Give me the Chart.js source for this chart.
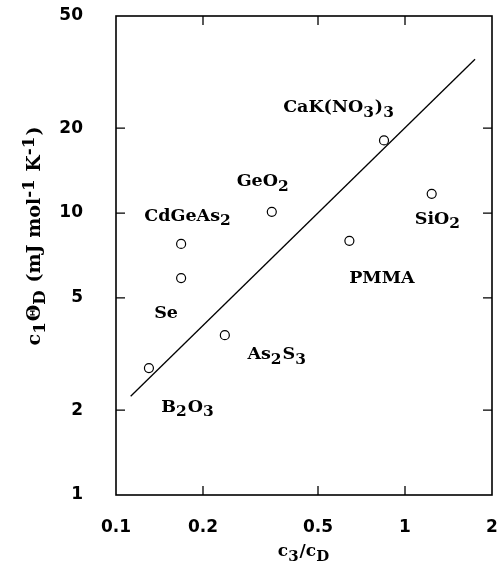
<!DOCTYPE html>
<html>
<head>
<meta charset="utf-8">
<script src="https://cdn.jsdelivr.net/npm/chart.js@4"></script>
<style>
  html, body { margin: 0; padding: 0; background: #fff; }
</style>
</head>
<body>
<canvas id="myChart" width="500" height="563"></canvas>
<script>
// measured points (c3/cD , c1*ThetaD)
const materials = ['B_2O_3', 'Se', 'CdGeAs_2', 'As_2S_3', 'GeO_2', 'PMMA', 'CaK(NO_3)_3', 'SiO_2'];
const ratioX = [0.130, 0.168, 0.168, 0.238, 0.346, 0.642, 0.846, 1.237];
const heatY  = [2.82, 5.88, 7.77, 3.69, 10.1, 7.97, 18.1, 11.7];

// straight fit line (y ~ 20x)
const fitX = [0.1124, 1.747];
const fitY = [2.24, 35.1];

// tick labels
const xTicks = [0.1, 0.2, 0.5, 1, 2];
const yTicks = [1, 2, 5, 10, 20, 50];

// where each material name is written (data coords)
const labelX = [0.1775, 0.149, 0.1775, 0.361, 0.323, 0.832, 0.591, 1.30];
const labelY = [2.05, 4.42, 9.76, 3.14, 12.9, 5.88, 23.6, 9.52];

const pts = ratioX.map((x, i) => ({x: x, y: heatY[i]}));
const fit = fitX.map((x, i) => ({x: x, y: fitY[i]}));

// draw text with _x subscripts and ^{..} superscripts
function richParts(str) {
  const parts = [];
  let i = 0;
  while (i < str.length) {
    const c = str[i];
    if (c === '_' || c === '^') {
      let t;
      if (str[i + 1] === '{') {
        const end = str.indexOf('}', i);
        t = str.slice(i + 2, end);
        i = end + 1;
      } else {
        t = str[i + 1];
        i += 2;
      }
      parts.push({t: t, s: c === '_' ? 1 : -1});
    } else {
      if (parts.length && parts[parts.length - 1].s === 0) parts[parts.length - 1].t += c;
      else parts.push({t: c, s: 0});
      i++;
    }
  }
  return parts;
}

function drawRich(ctx, str, x, y, size, family) {
  const parts = richParts(str);
  let total = 0;
  parts.forEach(p => {
    p.size = p.s === 0 ? size : size * 0.88;
    ctx.font = 'bold ' + p.size + 'px ' + family;
    p.w = ctx.measureText(p.t).width + (p.s !== 0 ? 1 : 0);
    total += p.w;
  });
  let cx = x - total / 2;
  ctx.textAlign = 'left';
  ctx.textBaseline = 'middle';
  parts.forEach(p => {
    ctx.font = 'bold ' + p.size + 'px ' + family;
    ctx.fillText(p.t, cx, y + p.s * size * 0.3);
    cx += p.w;
  });
}

const framePlugin = {
  id: 'frame',
  afterDraw(chart) {
    const ctx = chart.ctx;
    const a = chart.chartArea;
    const xs = chart.scales.x, ys = chart.scales.y;
    ctx.save();
    ctx.strokeStyle = '#000';
    ctx.fillStyle = '#000';
    ctx.lineWidth = 1.6;
    ctx.strokeRect(a.left, a.top, a.right - a.left, a.bottom - a.top);
    ctx.lineWidth = 1.3;
    ctx.beginPath();
    xTicks.slice(1, -1).forEach(v => {
      const px = xs.getPixelForValue(v);
      ctx.moveTo(px, a.bottom); ctx.lineTo(px, a.bottom - 9);
      ctx.moveTo(px, a.top); ctx.lineTo(px, a.top + 9);
    });
    yTicks.slice(1, -1).forEach(v => {
      const py = ys.getPixelForValue(v);
      ctx.moveTo(a.left, py); ctx.lineTo(a.left + 9, py);
      ctx.moveTo(a.right, py); ctx.lineTo(a.right - 9, py);
    });
    ctx.stroke();

    // material names
    materials.forEach((m, i) => {
      drawRich(ctx, m, xs.getPixelForValue(labelX[i]), ys.getPixelForValue(labelY[i]), 17.5, '"DejaVu Serif"');
    });

    // axis titles
    drawRich(ctx, 'c_3/c_D', (a.left + a.right) / 2, 552, 17, '"DejaVu Serif"');
    ctx.translate(35, 236);
    ctx.rotate(-Math.PI / 2);
    drawRich(ctx, 'c_1Θ_D (mJ mol^{-1} K^{-1})', 0, 0, 19, '"DejaVu Serif"');
    ctx.restore();
  }
};

const ctx = document.getElementById('myChart');
new Chart(ctx, {
  type: 'scatter',
  data: {
    datasets: [{
      data: pts,
      pointRadius: 4.5,
      pointBackgroundColor: '#fff',
      pointBorderColor: '#000',
      pointBorderWidth: 1.2
    }, {
      data: fit,
      showLine: true,
      pointRadius: 0,
      borderColor: '#000',
      borderWidth: 1.3
    }]
  },
  options: {
    responsive: false,
    animation: false,
    devicePixelRatio: 1,
    layout: { padding: { top: 16, right: 8, left: 0, bottom: 0 } },
    plugins: { legend: { display: false }, tooltip: { enabled: false } },
    scales: {
      x: {
        type: 'logarithmic',
        min: 0.1,
        max: 2,
        afterBuildTicks: s => { s.ticks = xTicks.map(v => ({value: v})); },
        afterFit: s => { s.height = 68; s.paddingLeft = 0; s.paddingRight = 0; },
        grid: { display: false },
        border: { display: false },
        ticks: {
          autoSkip: false,
          maxRotation: 0,
          padding: 14,
          color: '#000',
          font: { family: '"DejaVu Sans"', size: 17, weight: 'bold' },
          callback: v => String(v)
        }
      },
      y: {
        type: 'logarithmic',
        min: 1,
        max: 50,
        afterBuildTicks: s => { s.ticks = yTicks.map(v => ({value: v})); },
        afterFit: s => { s.width = 116; s.paddingTop = 0; s.paddingBottom = 0; },
        grid: { display: false },
        border: { display: false },
        ticks: {
          autoSkip: false,
          padding: 25,
          color: '#000',
          font: { family: '"DejaVu Sans"', size: 17, weight: 'bold' },
          callback: v => String(v)
        }
      }
    }
  },
  plugins: [framePlugin]
});
</script>
</body>
</html>
